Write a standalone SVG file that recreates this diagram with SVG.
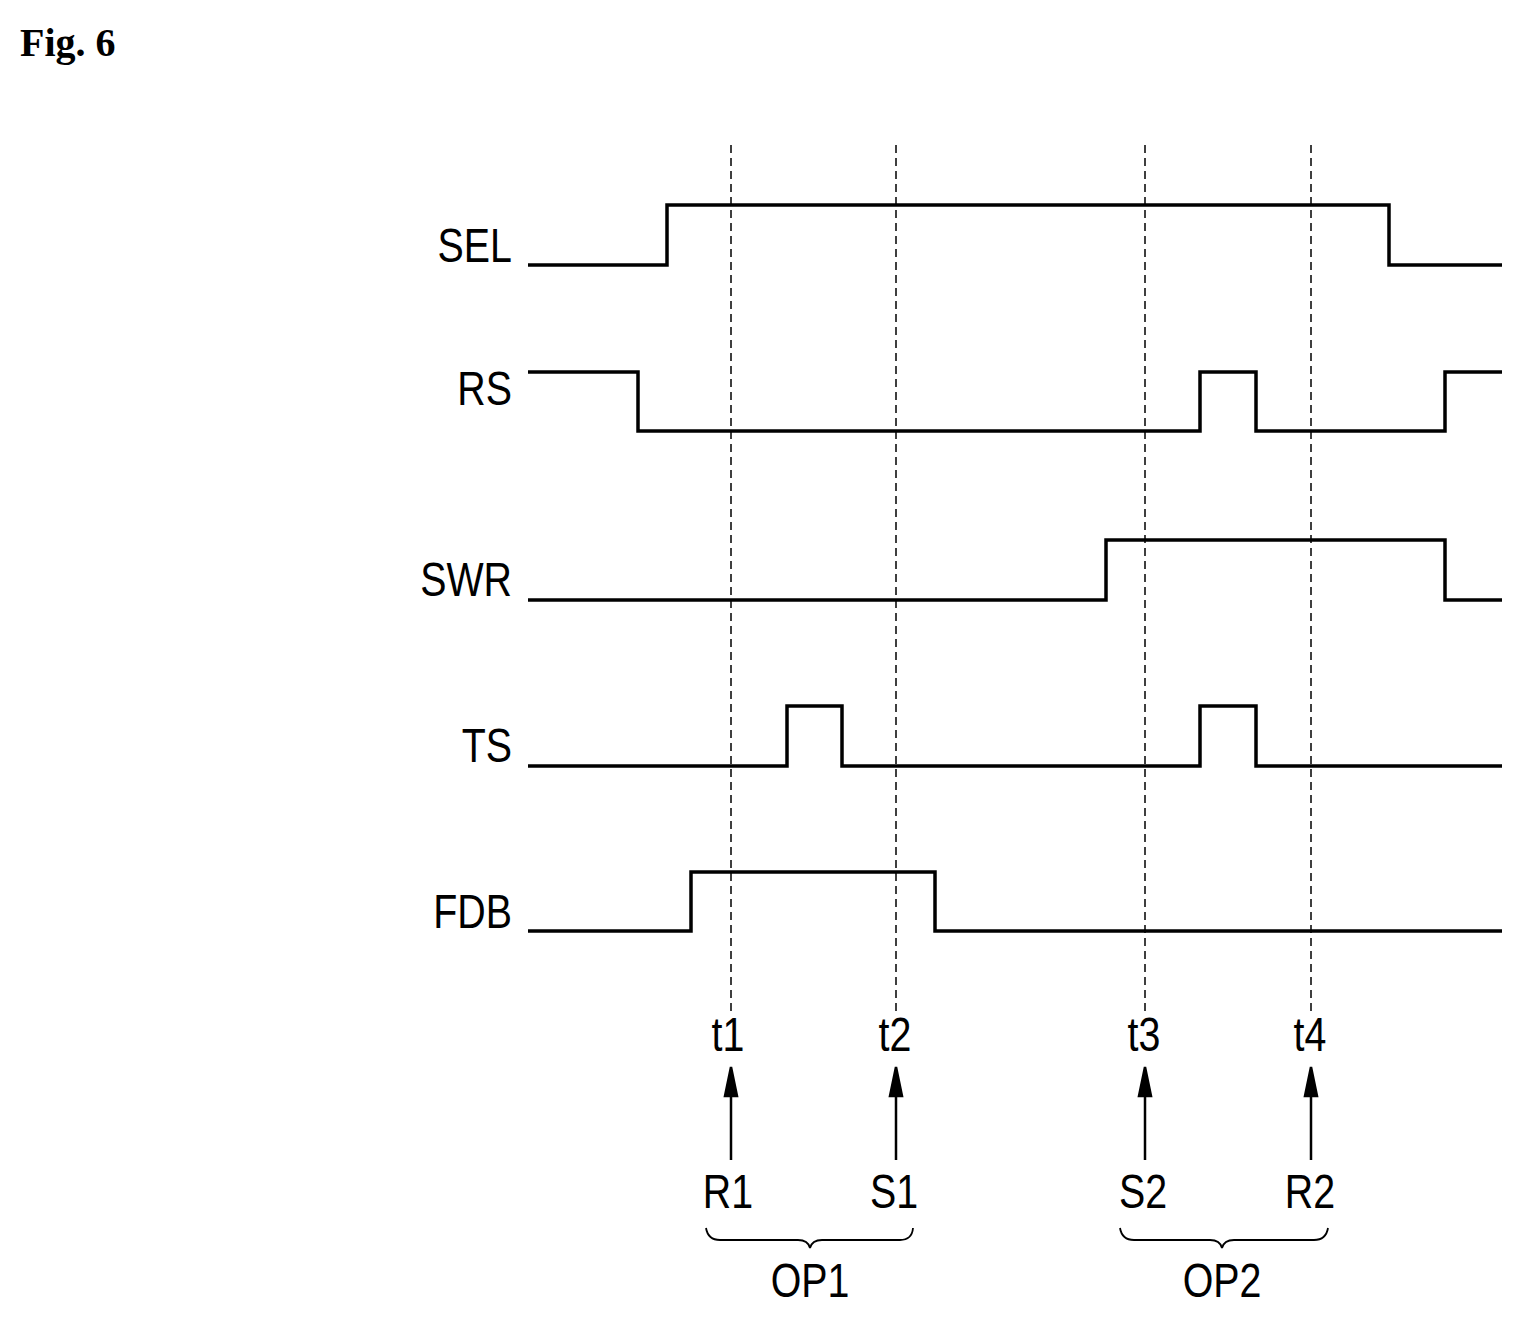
<svg xmlns="http://www.w3.org/2000/svg" width="1523" height="1320" viewBox="0 0 1523 1320">
<style>
.w{fill:none;stroke:#000;stroke-width:3.5}
.d{stroke:#000;stroke-width:1.5;stroke-dasharray:8,5}
.l{font-family:"Liberation Sans",Arial,sans-serif;font-size:48px;fill:#000}
.b{fill:none;stroke:#000;stroke-width:1.8}
</style>
<rect width="1523" height="1320" fill="#fff"/>
<text x="20" y="56" style="font-family:'Liberation Serif',serif;font-size:40px;font-weight:bold">Fig. 6</text>
<g id="grid">
<line class="d" x1="731" y1="145" x2="731" y2="1012"/>
<line class="d" x1="896" y1="145" x2="896" y2="1012"/>
<line class="d" x1="1145" y1="145" x2="1145" y2="1012"/>
<line class="d" x1="1311" y1="145" x2="1311" y2="1012"/>
</g>
<g id="labels" class="l" text-anchor="end" transform="translate(512 0) scale(0.82 1) translate(-512 0)">
<text x="512" y="262">SEL</text>
<text x="512" y="405">RS</text>
<text x="512" y="596">SWR</text>
<text x="512" y="762">TS</text>
<text x="512" y="928">FDB</text>
</g>
<g id="times" class="l" text-anchor="middle">
<text transform="translate(728 1051) scale(0.82 1)">t1</text>
<text transform="translate(895 1051) scale(0.82 1)">t2</text>
<text transform="translate(1144 1051) scale(0.82 1)">t3</text>
<text transform="translate(1310 1051) scale(0.82 1)">t4</text>
<text transform="translate(728 1208) scale(0.82 1)">R1</text>
<text transform="translate(894 1208) scale(0.82 1)">S1</text>
<text transform="translate(1143 1208) scale(0.82 1)">S2</text>
<text transform="translate(1310 1208) scale(0.82 1)">R2</text>
<text transform="translate(810 1297) scale(0.82 1)">OP1</text>
<text transform="translate(1222 1297) scale(0.82 1)">OP2</text>
</g>
<g id="waves">
<polyline class="w" points="528,265 667,265 667,205 1389,205 1389,265 1502,265"/>
<polyline class="w" points="528,372 638,372 638,431 1200,431 1200,372 1256,372 1256,431 1445,431 1445,372 1502,372"/>
<polyline class="w" points="528,600 1106,600 1106,540 1445,540 1445,600 1502,600"/>
<polyline class="w" points="528,766 787,766 787,706 842,706 842,766 1200,766 1200,706 1256,706 1256,766 1502,766"/>
<polyline class="w" points="528,931 691,931 691,872 935,872 935,931 1502,931"/>
</g>
<g id="arrows" stroke="#000" stroke-width="2.5">
<line x1="731" y1="1160" x2="731" y2="1090"/><polygon points="731,1067 725,1096 737,1096"/>
<line x1="896" y1="1160" x2="896" y2="1090"/><polygon points="896,1067 890,1096 902,1096"/>
<line x1="1145" y1="1160" x2="1145" y2="1090"/><polygon points="1145,1067 1139,1096 1151,1096"/>
<line x1="1311" y1="1160" x2="1311" y2="1090"/><polygon points="1311,1067 1305,1096 1317,1096"/>
</g>
<g id="braces">
<path class="b" d="M706,1228 Q708,1240 720,1240 L798,1240 Q808,1240 810,1248 Q812,1240 822,1240 L900,1240 Q912,1240 913,1228"/>
<path class="b" d="M1120,1228 Q1122,1240 1134,1240 L1210,1240 Q1220,1240 1222,1248 Q1224,1240 1234,1240 L1314,1240 Q1326,1240 1328,1228"/>
</g>
</svg>
